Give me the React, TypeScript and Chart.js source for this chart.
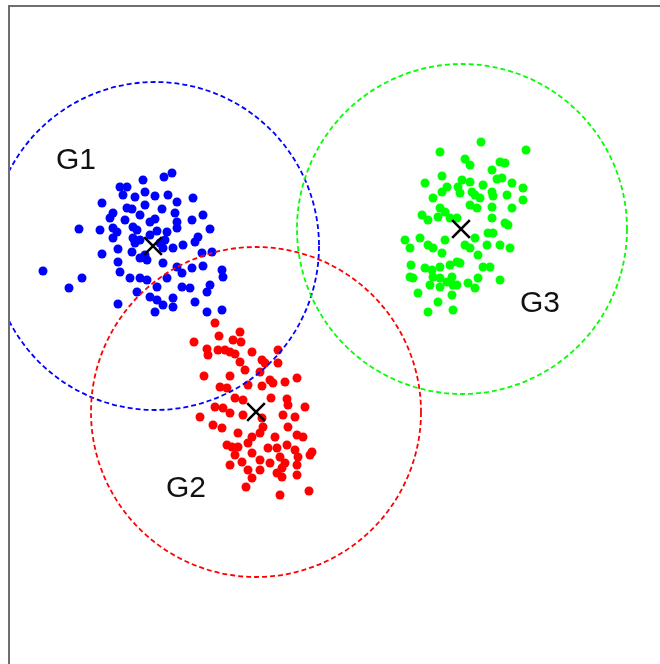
import React, { useEffect, useRef } from "react";
import { Chart, registerables } from "chart.js";

Chart.register(...registerables);

// Cluster G1 (blue)
const g1X = [1.63,1.55,1.34,1.11,1.18,1.36,1.14,1.26,1.46,1.59,1.68,1.84,0.93,1.18,1.23,1.36,1.53,1.66,1.04,1.01,1.94,1.83,1.41,1.46,1.68,0.70,0.91,1.04,1.08,1.24,1.28,1.48,1.58,1.68,2.01,1.89,1.86,1.04,1.24,1.31,1.74,1.64,1.54,1.09,1.23,1.93,2.03,0.93,1.31,1.38,1.09,1.54,1.68,1.73,1.83,1.94,0.34,1.11,2.13,2.14,1.21,1.31,1.38,1.58,1.48,0.73,1.73,1.81,0.60,1.28,2.01,1.98,1.41,1.48,1.64,1.86,1.09,1.54,1.64,1.46,1.98,2.13,1.26,1.36,1.51,1.56,1.41,1.16,1.31];
const g1Y = [4.91,4.87,4.84,4.77,4.77,4.72,4.69,4.67,4.68,4.69,4.62,4.66,4.61,4.56,4.55,4.59,4.55,4.51,4.51,4.46,4.49,4.44,4.42,4.45,4.42,4.35,4.34,4.36,4.32,4.37,4.34,4.33,4.32,4.36,4.35,4.27,4.22,4.26,4.26,4.24,4.19,4.16,4.16,4.15,4.12,4.11,4.12,4.10,4.06,4.04,4.02,4.01,3.97,3.91,3.96,3.98,3.93,3.92,3.94,3.87,3.86,3.86,3.84,3.86,3.77,3.86,3.77,3.76,3.76,3.72,3.79,3.72,3.67,3.64,3.66,3.62,3.60,3.59,3.57,3.52,3.52,3.54,4.21,4.09,4.21,4.24,4.29,4.44,4.49];

// Cluster G2 (red)
const g2X = [2.06,2.31,2.10,2.24,2.32,1.85,1.98,2.09,2.16,2.21,1.99,2.26,2.43,2.69,2.31,2.53,2.56,2.69,2.36,1.95,2.21,2.51,2.61,2.64,2.76,2.88,2.11,2.18,2.39,2.53,2.26,2.34,2.62,2.78,2.79,2.06,2.14,2.96,2.21,2.34,1.91,2.74,2.86,2.53,2.04,2.13,2.54,2.51,2.79,2.29,2.66,2.88,2.94,2.43,2.18,2.23,2.29,2.39,2.59,2.68,2.78,2.86,3.03,3.01,2.26,2.43,2.71,2.89,2.33,2.51,2.61,2.76,2.73,2.21,2.88,2.39,2.51,2.68,2.73,2.88,2.43,2.37,2.71,3.00];
const g2Y = [3.41,3.32,3.28,3.24,3.22,3.22,3.15,3.14,3.14,3.12,3.09,3.10,3.12,3.14,3.02,3.04,3.01,3.01,2.94,2.88,2.88,2.92,2.84,2.81,2.82,2.86,2.77,2.76,2.79,2.78,2.66,2.64,2.66,2.65,2.59,2.57,2.56,2.57,2.51,2.49,2.47,2.49,2.47,2.46,2.39,2.36,2.37,2.31,2.37,2.31,2.27,2.29,2.27,2.27,2.19,2.17,2.17,2.21,2.16,2.16,2.19,2.14,2.12,2.09,2.09,2.11,2.07,2.07,2.02,2.04,2.01,2.01,1.96,1.99,1.99,1.94,1.94,1.91,1.87,1.89,1.86,1.77,1.69,1.73];

// Cluster G3 (green)
const g3X = [4.72,4.31,5.17,4.56,4.61,4.91,4.96,4.83,4.33,4.53,4.61,4.88,4.93,4.16,5.03,4.38,4.33,4.49,4.51,4.74,5.14,4.63,4.66,4.83,4.84,4.98,4.24,5.14,4.71,4.61,4.68,4.31,4.36,4.83,5.03,4.13,4.19,4.29,4.41,4.48,4.83,4.96,4.99,3.96,4.11,4.66,4.79,4.84,4.36,4.19,4.24,4.56,4.61,4.01,4.78,4.91,5.01,4.33,4.69,4.48,4.51,4.41,4.02,4.74,4.81,4.16,4.23,4.31,4.01,4.04,4.24,4.31,4.43,4.38,4.69,4.91,4.59,4.21,4.31,4.44,4.48,4.66,4.09,4.43,4.29,4.19,4.44];
const g3Y = [5.22,5.12,5.14,5.05,4.99,5.02,5.01,4.94,4.88,4.84,4.82,4.85,4.86,4.81,4.81,4.77,4.72,4.77,4.71,4.79,4.76,4.72,4.69,4.72,4.68,4.69,4.66,4.64,4.66,4.59,4.56,4.56,4.52,4.57,4.56,4.49,4.44,4.47,4.46,4.46,4.46,4.41,4.39,4.24,4.26,4.26,4.31,4.31,4.24,4.19,4.16,4.19,4.16,4.16,4.19,4.19,4.16,4.11,4.09,4.02,4.01,3.99,3.99,3.97,3.97,3.96,3.94,3.97,3.87,3.86,3.87,3.86,3.87,3.82,3.86,3.84,3.81,3.79,3.77,3.79,3.79,3.76,3.71,3.69,3.62,3.52,3.54];

// Group centres, circle radii and labels
const groupNames = ["G1", "G2", "G3"];
const centerX = [1.44, 2.47, 4.52];
const centerY = [4.18, 2.52, 4.35];
const circleX = [1.46, 2.47, 4.53];
const circleY = [4.18, 2.52, 4.35];
const circleR = [1.64, 1.65, 1.65];
const labelX = [0.67, 1.77, 5.31];
const labelY = [5.03, 1.75, 3.60];
const groupColors = ["#0000ff", "#ff0000", "#00ff00"];

const toPts = (xs: number[], ys: number[]) => xs.map((x, i) => ({ x, y: ys[i] }));

const overlayPlugin = {
  id: "overlay",
  beforeDatasetsDraw(chart: any) {
    const { ctx, chartArea } = chart;
    ctx.save();
    ctx.strokeStyle = "#6e6e6e";
    ctx.lineWidth = 2;
    ctx.beginPath();
    ctx.moveTo(chartArea.left, chartArea.bottom + 5);
    ctx.lineTo(chartArea.left, chartArea.top);
    ctx.lineTo(chartArea.right + 5, chartArea.top);
    ctx.stroke();
    ctx.restore();
  },
  afterDatasetDraw(chart: any, args: any) {
    if (args.index !== 0) return;
    const { ctx, chartArea } = chart;
    const xs = chart.scales.x;
    const ys = chart.scales.y;
    ctx.save();
    ctx.beginPath();
    ctx.rect(chartArea.left + 1, chartArea.top + 1, chartArea.right - chartArea.left, chartArea.bottom - chartArea.top);
    ctx.clip();
    ctx.lineWidth = 1.8;
    ctx.setLineDash([5, 3]);
    for (let i = 0; i < 3; i++) {
      const cx = xs.getPixelForValue(circleX[i]);
      const cy = ys.getPixelForValue(circleY[i]);
      const r = xs.getPixelForValue(circleX[i] + circleR[i]) - cx;
      ctx.strokeStyle = groupColors[i];
      ctx.beginPath();
      ctx.arc(cx, cy, r, 0, Math.PI * 2);
      ctx.stroke();
    }
    ctx.restore();
  },
  afterDatasetsDraw(chart: any) {
    const { ctx } = chart;
    const xs = chart.scales.x;
    const ys = chart.scales.y;
    ctx.save();
    ctx.fillStyle = "#111111";
    ctx.font = '30px "Liberation Sans", Arial, sans-serif';
    ctx.textAlign = "center";
    ctx.textBaseline = "middle";
    for (let i = 0; i < 3; i++) {
      ctx.fillText(groupNames[i], xs.getPixelForValue(labelX[i]), ys.getPixelForValue(labelY[i]));
    }
    ctx.restore();
  },
};

export default function App() {
  const ref = useRef<HTMLCanvasElement | null>(null);
  useEffect(() => {
    if (!ref.current) return;
    const pointDs = (xs: number[], ys: number[], i: number) => ({
      label: groupNames[i],
      data: toPts(xs, ys),
      backgroundColor: groupColors[i],
      borderColor: groupColors[i],
      borderWidth: 0,
      pointRadius: 4.5,
      pointHoverRadius: 4.5,
      order: 0,
    });
    const chart = new Chart(ref.current, {
      type: "scatter",
      data: {
        datasets: [
          pointDs(g1X, g1Y, 0),
          pointDs(g2X, g2Y, 1),
          pointDs(g3X, g3Y, 2),
          {
            label: "centres",
            data: toPts(centerX, centerY),
            pointStyle: "crossRot",
            pointRadius: 12.5,
            pointHoverRadius: 12.5,
            borderColor: "#000000",
            backgroundColor: "#000000",
            borderWidth: 2.6,
            order: -1,
          } as any,
        ],
      },
      options: {
        responsive: false,
        animation: false,
        events: [],
        layout: { autoPadding: false, padding: { left: 9, top: 6, right: 0, bottom: 0 } },
        plugins: { legend: { display: false }, tooltip: { enabled: false } },
        scales: {
          x: { type: "linear", min: 0, max: 6.51, display: false },
          y: { type: "linear", min: 0, max: 6.58, display: false },
        },
      },
      plugins: [overlayPlugin],
    });
    return () => chart.destroy();
  }, []);
  return (
    <div style={{ position: "fixed", left: 0, top: 0, width: 660, height: 664, overflow: "hidden", background: "#fff" }}>
      <canvas ref={ref} width={660} height={664} style={{ display: "block" }} />
    </div>
  );
}
